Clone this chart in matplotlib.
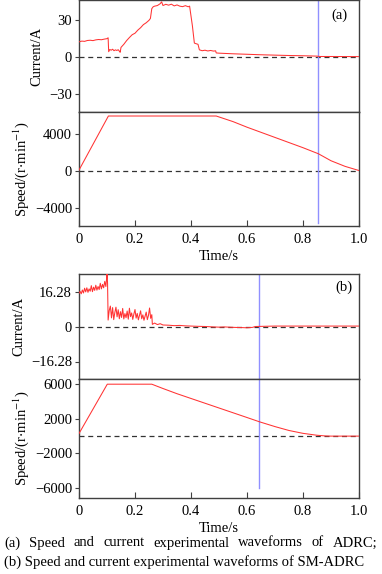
import numpy as np
import matplotlib
matplotlib.use('Agg')
import matplotlib.pyplot as plt

plt.rcParams['font.family'] = ['Liberation Serif', 'DejaVu Serif']
plt.rcParams['mathtext.fontset'] = 'stix'

# (a) ADRC current waveform
t_cur_a = [0, 0.01, 0.02, 0.03, 0.04, 0.05, 0.06, 0.07, 0.08, 0.09, 0.1, 0.104,
           0.106, 0.11, 0.115, 0.12, 0.125, 0.13, 0.135, 0.14, 0.145, 0.147,
           0.15, 0.16, 0.17, 0.18, 0.19, 0.2, 0.21, 0.22, 0.23, 0.24, 0.25, 0.255,
           0.26, 0.265, 0.27, 0.28, 0.29, 0.295, 0.3, 0.31, 0.32, 0.33, 0.34,
           0.35, 0.36, 0.37, 0.38, 0.39, 0.395,
           0.405, 0.412, 0.418, 0.425, 0.43, 0.44, 0.45, 0.46, 0.47, 0.48, 0.488,
           0.49, 0.5, 0.55, 0.6, 0.65, 0.7, 0.75, 0.8, 0.85, 0.86, 0.9, 1.0]
i_cur_a = [12.0, 12.6, 12.4, 13.1, 13.3, 13.0, 13.6, 13.9, 13.7, 14.2, 14.6, 15.3,
           4.0, 5.8, 5.2, 6.0, 4.8, 5.5, 5.0, 5.6, 4.2, 3.5,
           7.5, 10.0, 13.0, 15.5, 17.8, 19.0, 21.5, 23.5, 26.0, 27.5, 29.5, 31.0,
           39.0, 40.5, 41.0, 41.5, 43.0, 44.5, 41.5, 42.5, 41.8, 42.6, 41.2,
           42.0, 41.0, 40.6, 41.4, 40.5, 41.0,
           25.0, 11.0, 10.5, 10.0, 5.5, 4.8, 5.2, 4.6, 5.0, 4.5, 4.7,
           3.0, 2.8, 2.3, 1.9, 1.5, 1.2, 0.9, 0.7, 0.4, 0.1, 0.1, 0.0]

# (a) ADRC speed waveform
t_spd_a = [0, 0.105, 0.49, 0.55, 0.6, 0.65, 0.7, 0.75, 0.8, 0.855, 0.9, 0.95, 1.0]
n_spd_a = [100, 5900, 5900, 5300, 4700, 4150, 3600, 3050, 2500, 1850, 1100, 500, 50]

# (b) SM-ADRC current waveform
t_cur_b = [0.000, 0.004, 0.008, 0.012, 0.016, 0.020, 0.024, 0.028, 0.032, 0.036,
           0.040, 0.044, 0.048, 0.052, 0.056, 0.060, 0.064, 0.068, 0.072, 0.076,
           0.080, 0.084, 0.088, 0.092, 0.096, 0.099, 0.100, 0.102, 0.104,
           0.108, 0.112, 0.116, 0.120, 0.124, 0.128, 0.132, 0.136, 0.140, 0.144,
           0.148, 0.152, 0.156, 0.160, 0.164, 0.168, 0.172, 0.176, 0.180, 0.184,
           0.188, 0.192, 0.196, 0.200, 0.204, 0.208, 0.212, 0.216, 0.220, 0.224,
           0.228, 0.232, 0.236, 0.240, 0.244, 0.248, 0.252, 0.256, 0.260, 0.262,
           0.27, 0.28, 0.29, 0.30, 0.32, 0.34, 0.36, 0.38, 0.40, 0.42, 0.45,
           0.48, 0.50, 0.52, 0.55, 0.58, 0.60, 0.62, 0.63, 0.7, 0.8, 0.9, 1.0]
i_cur_b = [15.5, 16.3, 15.2, 17.0, 15.6, 17.8, 16.1, 18.0, 15.9, 17.5,
           16.4, 19.0, 16.2, 18.3, 16.8, 19.2, 16.9, 18.6, 17.2, 20.1,
           17.5, 19.6, 18.0, 21.0, 18.6, 23.0, 26.0, 20.0, 3.0,
           7.5, 9.5, 4.0, 8.8, 3.2, 6.5, 9.0, 4.5, 7.8, 3.6,
           6.9, 4.2, 8.4, 3.5, 6.0, 4.1, 7.2, 3.4, 8.5, 4.6,
           6.3, 3.3, 5.8, 7.9, 3.9, 6.1, 3.1, 5.2, 7.3, 3.6,
           5.4, 2.9, 4.8, 6.7, 3.2, 5.1, 8.6, 3.8, 5.5, 1.0,
           1.6, 0.9, 1.3, 0.7, 0.6, 0.4, 0.5, 0.3, 0.2, 0.1, 0.0,
           -0.2, -0.3, -0.2, -0.4, -0.5, -0.6, -0.4, 0.0, 0.2, 0.2, 0.2, 0.2]

# (b) SM-ADRC speed waveform
t_spd_b = [0, 0.101, 0.26, 0.3, 0.35, 0.4, 0.45, 0.5, 0.55, 0.6, 0.645,
           0.7, 0.75, 0.8, 0.85, 0.88, 0.9, 1.0]
n_spd_b = [300, 6000, 6000, 5500, 4900, 4350, 3800, 3250, 2700, 2150, 1650,
           1100, 650, 320, 100, 20, 0, 0]

marker_a = 0.855
marker_b = 0.642

x_ticks = [0, 0.2, 0.4, 0.6, 0.8, 1.0]
x_ticklabels = ['0', '0.2', '0.4', '0.6', '0.8', '1.0']
captions = ['(a) Speed and current experimental waveforms of ADRC;',
            '(b) Speed and current experimental waveforms of SM-ADRC']

FS = 10.5
RED = '#ff3333'
BLUE = '#9090ff'
FRAME = '#404040'


def style_axes(ax, bottom_ticks):
    for s in ax.spines.values():
        s.set_color(FRAME)
        s.set_linewidth(1.0)
    ax.set_xlim(0, 1.0)
    ax.tick_params(axis='y', direction='out', length=3, width=0.8,
                   color=FRAME, labelsize=FS, pad=2)
    if bottom_ticks:
        ax.set_xticks(x_ticks)
        ax.set_xticklabels(x_ticklabels)
        ax.tick_params(axis='x', direction='in', length=4, width=0.8,
                       color=FRAME, labelsize=FS, pad=5)
        ax.set_xlabel('Time/s', fontsize=FS, labelpad=3)
    else:
        ax.set_xticks([])


def draw(ax, t, y, marker, vmin=0.0):
    ax.axhline(0, color='#333333', ls=(0, (4, 3)), lw=0.9, zorder=1)
    ax.plot(t, y, color=RED, lw=0.75, zorder=3)
    ax.axvline(marker, ymin=vmin, color=BLUE, lw=1.0, zorder=2)


fig = plt.figure(figsize=(3.82, 5.74), dpi=100)
L, W = 79 / 382, 280 / 382


def rect(top, bottom):
    return [L, 1 - bottom / 574, W, (bottom - top) / 574]


ax1 = fig.add_axes(rect(0, 112))
draw(ax1, t_cur_a, i_cur_a, marker_a)
ax1.set_ylim(-45, 46)
ax1.set_yticks([-30, 0, 30])
ax1.set_yticklabels(['\u221230', '0', '30'])
ax1.set_ylabel('Current/A', fontsize=FS, labelpad=4)
ax1.text(0.93, 0.86, '(a)', transform=ax1.transAxes, ha='center',
         va='center', fontsize=FS)
style_axes(ax1, False)

ax2 = fig.add_axes(rect(112, 226))
draw(ax2, t_spd_a, n_spd_a, marker_a, vmin=0.03)
ax2.set_ylim(-5900, 6330)
ax2.set_yticks([-4000, 0, 4000])
ax2.set_yticklabels(['\u22124000', '0', '4000'])
ax2.set_ylabel('Speed/(r$\\cdot$min$^{-1}$)', fontsize=FS, labelpad=3)
style_axes(ax2, True)

ax3 = fig.add_axes(rect(274, 379))
draw(ax3, t_cur_b, i_cur_b, marker_b)
ax3.set_ylim(-24.42, 24.42)
ax3.set_yticks([-16.28, 0, 16.28])
ax3.set_yticklabels(['\u221216.28', '0', '16.28'])
ax3.set_ylabel('Current/A', fontsize=FS, labelpad=4)
ax3.text(0.945, 0.87, '(b)', transform=ax3.transAxes, ha='center',
         va='center', fontsize=FS)
style_axes(ax3, False)

ax4 = fig.add_axes(rect(379, 498))
draw(ax4, t_spd_b, n_spd_b, marker_b, vmin=0.084)
ax4.set_ylim(-7150, 6600)
ax4.set_yticks([-6000, -2000, 2000, 6000])
ax4.set_yticklabels(['\u22126000', '\u22122000', '2000', '6000'])
ax4.set_ylabel('Speed/(r$\\cdot$min$^{-1}$)', fontsize=FS, labelpad=3)
style_axes(ax4, True)

fig.align_ylabels([ax1, ax2])
fig.align_ylabels([ax3, ax4])

# captions: first line justified, second line natural spacing
renderer = fig.canvas.get_renderer()
cap_fs = 10.5
x0, x1 = 4 / 382, 377 / 382
words = captions[0].split(' ')
texts = [fig.text(0, 1 - 543 / 574, w, fontsize=cap_fs, va='center')
         for w in words]
widths = [t.get_window_extent(renderer).width / fig.bbox.width for t in texts]
gap = (x1 - x0 - sum(widths)) / (len(words) - 1)
x = x0
for t, w in zip(texts, widths):
    t.set_x(x)
    x += w + gap
fig.text(x0, 1 - 562 / 574, captions[1], fontsize=cap_fs, va='center')

fig.savefig('out.png', dpi=100)
